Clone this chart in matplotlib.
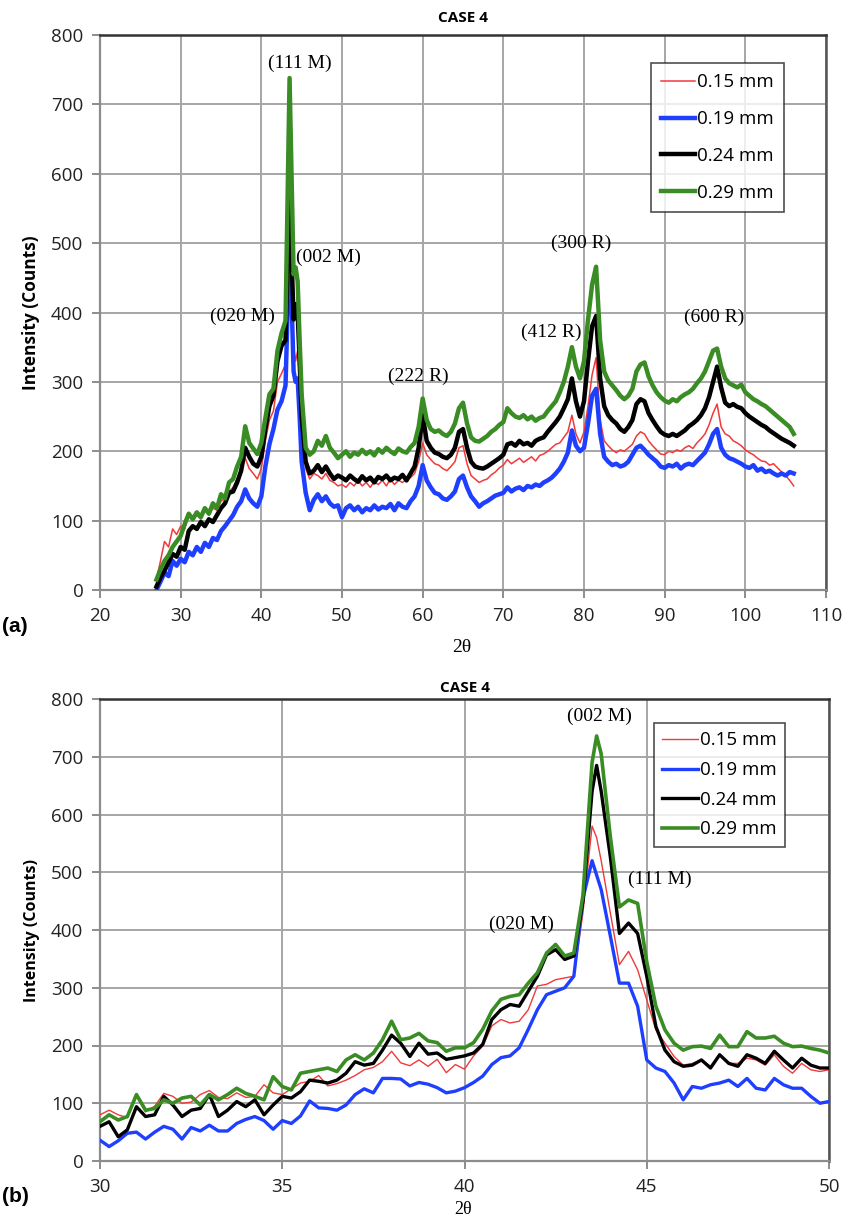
import matplotlib
matplotlib.use("Agg")
import matplotlib.pyplot as plt

# ---------------- data: panel (a) ----------------
top_x = [27.0, 27.5, 28.0, 28.5, 29.0, 29.5, 30.0, 30.5, 31.0, 31.5, 32.0, 32.5, 33.0, 33.5, 34.0, 34.5,
         35.0, 35.5, 36.0, 36.5, 37.0, 37.5, 38.0, 38.5, 39.0, 39.5, 40.0, 40.5, 41.0, 41.5, 42.0, 42.5, 43.0,
         43.25, 43.5, 43.75, 44.0, 44.25, 44.5, 44.75, 45.0,
         45.5, 46.0, 46.5, 47.0, 47.5, 48.0, 48.5, 49.0, 49.5, 50.0,
         50.5, 51.0, 51.5, 52.0, 52.5, 53.0, 53.5, 54.0, 54.5, 55.0,
         55.5, 56.0, 56.5, 57.0, 57.5, 58.0, 58.5, 59.0, 59.5, 60.0,
         60.5, 61.0, 61.5, 62.0, 62.5, 63.0, 63.5, 64.0, 64.5, 65.0,
         65.5, 66.0, 66.5, 67.0, 67.5, 68.0, 68.5, 69.0, 69.5, 70.0,
         70.5, 71.0, 71.5, 72.0, 72.5, 73.0, 73.5, 74.0, 74.5, 75.0,
         75.5, 76.0, 76.5, 77.0, 77.5, 78.0, 78.5, 79.0, 79.5, 80.0,
         80.5, 81.0, 81.5, 82.0, 82.5, 83.0, 83.5, 84.0, 84.5, 85.0,
         85.5, 86.0, 86.5, 87.0, 87.5, 88.0, 88.5, 89.0, 89.5, 90.0,
         90.5, 91.0, 91.5, 92.0, 92.5, 93.0, 93.5, 94.0, 94.5, 95.0,
         95.5, 96.0, 96.5, 97.0, 97.5, 98.0, 98.5, 99.0, 99.5, 100.0,
         100.5, 101.0, 101.5, 102.0, 102.5, 103.0, 103.5, 104.0, 104.5, 105.0,
         105.5, 106.0]

top_015 = [15, 42, 70, 62, 88, 80, 92, 88, 110, 100, 108, 102, 115, 108, 118, 115,
           128, 132, 142, 148, 160, 172, 190, 175, 168, 160, 175, 215, 245, 258, 300, 312, 325,
           440, 575, 450, 350, 330, 345, 300, 230,
           175, 160, 168, 165, 160, 168, 158, 155, 150, 152,
           148, 155, 150, 158, 150, 155, 148, 156, 152, 158,
           150, 160, 152, 158, 155, 160, 162, 168, 185, 212,
           195, 188, 182, 180, 175, 172, 178, 185, 205, 208,
           182, 165, 160, 155, 158, 160, 166, 170, 176, 180,
           188, 182, 186, 190, 184, 188, 192, 186, 194, 196,
           200, 205, 210, 212, 220, 228, 252, 225, 212, 228,
           265, 310, 335, 245, 215, 208, 202, 198, 202, 200,
           205, 210, 222, 228, 225, 215, 208, 202, 196, 195,
           200, 198, 202, 200, 205, 208, 204, 212, 218, 225,
           238, 255, 268, 235, 225, 222, 215, 212, 208, 202,
           198, 195, 190, 186, 185, 180, 182, 176, 170, 165,
           158, 150]

top_019 = [0, 12, 25, 20, 42, 35, 45, 40, 55, 50, 62, 55, 68, 62, 75, 72,
           85, 92, 100, 108, 120, 128, 145, 132, 125, 120, 135, 178, 210, 232, 260, 272, 295,
           400, 520, 420, 315, 300, 305, 250, 185,
           140, 115, 130, 138, 128, 135, 125, 120, 122, 105,
           118, 122, 115, 120, 112, 118, 115, 122, 116, 120,
           118, 124, 115, 125, 120, 118, 128, 135, 150, 180,
           158, 148, 140, 138, 132, 130, 135, 142, 160, 165,
           148, 135, 128, 120, 125, 128, 132, 136, 138, 140,
           148, 142, 146, 148, 144, 150, 148, 152, 150, 155,
           158, 162, 168, 175, 185, 198, 230, 208, 200, 205,
           240, 280, 290, 225, 192, 185, 180, 182, 178, 180,
           185, 195, 205, 208, 202, 195, 190, 185, 178, 176,
           180, 178, 182, 175, 180, 182, 180, 186, 192, 198,
           210, 225, 232, 205, 195, 190, 188, 185, 182, 178,
           176, 180, 172, 175, 170, 172, 168, 165, 168, 165,
           170, 168]

top_024 = [5, 18, 28, 40, 52, 48, 62, 58, 85, 92, 88, 98, 92, 102, 98, 108,
           118, 125, 140, 142, 155, 172, 205, 192, 182, 178, 192, 232, 265, 280, 330, 352, 360,
           470, 590, 480, 390, 412, 400, 330, 250,
           185, 168, 172, 180, 170, 178, 168, 160, 165, 162,
           158, 165, 160, 156, 164, 158, 162, 155, 163, 160,
           165, 158, 162, 160, 166, 158, 168, 178, 205, 252,
           215, 205, 198, 196, 192, 190, 195, 205, 228, 232,
           205, 185, 178, 176, 175, 178, 182, 186, 190, 195,
           210, 212, 208, 215, 210, 212, 208, 215, 218, 220,
           228, 235, 242, 250, 262, 275, 305, 272, 250, 272,
           330, 380, 395, 305, 265, 252, 245, 240, 232, 228,
           235, 245, 268, 275, 272, 255, 245, 236, 228, 224,
           222, 225, 222, 226, 230, 236, 240, 245, 252, 262,
           278, 300, 322, 292, 270, 265, 268, 264, 262, 255,
           250, 246, 242, 238, 235, 230, 226, 222, 218, 215,
           212, 208]

top_029 = [15, 30, 42, 50, 62, 70, 78, 95, 110, 102, 112, 105, 118, 110, 125, 118,
           138, 132, 155, 160, 178, 192, 236, 212, 204, 196, 212, 248, 282, 290, 345, 370, 388,
           560, 738, 600, 455, 465, 445, 360, 282,
           205, 195, 200, 215, 208, 222, 205, 198, 190, 195,
           200, 192, 198, 195, 202, 196, 200, 194, 203, 198,
           205, 200, 196, 204, 200, 198, 206, 212, 235, 276,
           245, 232, 228, 230, 225, 222, 228, 240, 262, 270,
           240, 220, 215, 214, 218, 222, 228, 232, 238, 242,
           262, 255, 250, 248, 252, 246, 250, 244, 248, 250,
           258, 265, 272, 285, 300, 322, 350, 322, 305, 330,
           390, 440, 466, 360, 315, 302, 295, 288, 280, 275,
           280, 290, 315, 325, 328, 308, 295, 285, 278, 273,
           270, 275, 272, 278, 282, 285, 290, 298, 305, 315,
           330, 345, 348, 322, 305, 298, 295, 292, 296, 285,
           280, 275, 272, 268, 265, 260, 255, 250, 245, 240,
           235, 225]

# ---------------- data: panel (b) ----------------
bot_x = [30.0, 30.25, 30.5, 30.75, 31.0, 31.25, 31.5, 31.75, 32.0, 32.25, 32.5, 32.75,
         33.0, 33.25, 33.5, 33.75, 34.0, 34.25, 34.5, 34.75, 35.0, 35.25, 35.5, 35.75,
         36.0, 36.25, 36.5, 36.75, 37.0, 37.25, 37.5, 37.75, 38.0, 38.25, 38.5, 38.75,
         39.0, 39.25, 39.5, 39.75, 40.0, 40.25, 40.5, 40.75, 41.0, 41.25, 41.5, 41.75,
         42.0, 42.25, 42.5, 42.75, 43.0, 43.25, 43.5, 43.625, 43.75, 44.0, 44.25, 44.5,
         44.75, 45.0, 45.25, 45.5, 45.75, 46.0, 46.25, 46.5, 46.75, 47.0, 47.25, 47.5,
         47.75, 48.0, 48.25, 48.5, 48.75, 49.0, 49.25, 49.5, 49.75, 50.0]

bot_015 = [80, 88, 80, 75, 112, 85, 95, 117, 112, 100, 102, 115,
           122, 110, 108, 118, 110, 112, 132, 118, 115, 125, 135, 138,
           148, 130, 134, 140, 148, 158, 162, 172, 190, 170, 165, 175,
           164, 176, 153, 167, 159, 182, 199, 234, 245, 239, 242, 262,
           303, 306, 314, 317, 320, 430, 580, 560, 520, 430, 340, 363,
           331, 279, 227, 204, 181, 166, 169, 175, 164, 184, 169, 169,
           178, 175, 166, 184, 164, 152, 169, 158, 155, 158]

bot_019 = [36, 25, 35, 48, 50, 38, 50, 60, 55, 38, 58, 52,
           62, 52, 52, 65, 72, 77, 70, 55, 70, 65, 78, 104,
           92, 91, 88, 97, 115, 125, 118, 143, 143, 142, 130, 136,
           133, 127, 118, 121, 127, 136, 147, 167, 179, 182, 196, 228,
           262, 288, 294, 300, 320, 455, 520, 495, 470, 390, 308, 308,
           268, 175, 161, 155, 135, 106, 129, 126, 132, 135, 140, 129,
           143, 126, 123, 143, 132, 126, 126, 112, 100, 103]

bot_024 = [60, 68, 42, 54, 94, 77, 80, 112, 97, 77, 88, 91,
           115, 77, 88, 103, 94, 106, 80, 97, 112, 109, 120, 140,
           138, 135, 140, 152, 172, 166, 169, 192, 218, 204, 181, 204,
           185, 187, 176, 179, 182, 187, 202, 245, 262, 271, 268, 294,
           320, 357, 366, 349, 355, 450, 640, 685, 640, 527, 394, 412,
           394, 320, 233, 192, 172, 164, 166, 175, 161, 184, 169, 164,
           184, 178, 169, 190, 175, 161, 178, 166, 161, 161]

bot_029 = [68, 80, 71, 77, 115, 88, 91, 106, 100, 109, 112, 97,
           115, 106, 115, 126, 117, 112, 106, 146, 129, 123, 152, 155,
           158, 161, 155, 175, 184, 175, 187, 210, 242, 210, 213, 221,
           208, 205, 190, 196, 196, 205, 228, 260, 280, 285, 288, 308,
           326, 360, 375, 355, 360, 460, 690, 736, 705, 562, 440, 452,
           446, 345, 268, 227, 204, 192, 198, 199, 195, 218, 198, 198,
           224, 213, 213, 216, 204, 198, 199, 195, 192, 187]

labels = ["0.15 mm", "0.19 mm", "0.24 mm", "0.29 mm"]
colors = ["#f03a3a", "#1f3fff", "#000000", "#3a8c24"]

top_ann_text = ["(111 M)", "(002 M)", "(020 M)", "(222 R)", "(412 R)", "(300 R)", "(600 R)"]
top_ann_x = [44.8, 48.3, 37.7, 59.4, 75.9, 79.6, 96.1]
top_ann_y = [759, 480, 394, 308, 372, 500, 393]

bot_ann_text = ["(002 M)", "(111 M)", "(020 M)"]
bot_ann_x = [43.69, 45.35, 41.55]
bot_ann_y = [770, 487, 409]

# ---------------- figure ----------------
W, H = 843, 1218
fig = plt.figure(figsize=(W / 100, H / 100), dpi=100)

tick_font = "Open Sans"
serif = ["Liberation Serif", "DejaVu Serif"]


def style_axes(ax, xmin, xmax, xstep, ymin, ymax):
    ax.set_xlim(xmin, xmax)
    ax.set_ylim(ymin, ymax)
    ax.set_xticks(list(range(xmin, xmax + 1, xstep)))
    ax.set_yticks(list(range(ymin, ymax + 1, 100)))
    ax.grid(True, color="#a6a6a6", linewidth=1.4, zorder=0)
    ax.set_axisbelow(True)
    for side in ["left", "bottom"]:
        ax.spines[side].set_color("#8c8c8c")
        ax.spines[side].set_linewidth(1.6)
    ax.spines["top"].set_color("#333333")
    ax.spines["top"].set_linewidth(1.8)
    ax.spines["right"].set_color("#555555")
    ax.spines["right"].set_linewidth(1.8)
    ax.tick_params(axis="both", direction="out", length=6, width=1.4, color="#8c8c8c",
                   labelsize=13.5, pad=6)
    for lab in ax.get_xticklabels() + ax.get_yticklabels():
        lab.set_fontfamily(tick_font)
        lab.set_color("#222222")


# ---- panel (a)
ax1 = fig.add_axes([100 / W, 1 - 590 / H, 726 / W, 555 / H])
style_axes(ax1, 20, 110, 10, 0, 800)
series_top = [top_015, top_019, top_024, top_029]
lw_top = [1.1, 3.2, 3.2, 3.2]
for ys, c, lab, lw in zip(series_top, colors, labels, lw_top):
    ax1.plot(top_x, ys, color=c, lw=lw, label=lab, zorder=3)
for t, xx, yy in zip(top_ann_text, top_ann_x, top_ann_y):
    ax1.text(xx, yy, t, ha="center", va="center", fontsize=14, family=serif, zorder=5)
leg1 = ax1.legend(loc="upper left", bbox_to_anchor=(651 / W, 1 - 63 / H),
                  bbox_transform=fig.transFigure, frameon=True, fancybox=False,
                  edgecolor="#222222", fontsize=13.5, handlelength=1.8, handletextpad=0.1,
                  labelspacing=1.0, borderpad=0.55, borderaxespad=0)
leg1.get_frame().set_linewidth(1.2)
for txt in leg1.get_texts():
    txt.set_fontfamily(tick_font)
ax1.set_title("CASE 4", fontsize=11, fontweight="bold", family=tick_font, pad=9)
ax1.set_ylabel("Intensity (Counts)", fontsize=12.5, fontweight="bold", family=tick_font, labelpad=8)

# ---- panel (b)
ax2 = fig.add_axes([100 / W, 1 - 1161 / H, 729 / W, 462 / H])
style_axes(ax2, 30, 50, 5, 0, 800)
series_bot = [bot_015, bot_019, bot_024, bot_029]
lw_bot = [1.0, 2.4, 2.4, 2.6]
for ys, c, lab, lw in zip(series_bot, colors, labels, lw_bot):
    ax2.plot(bot_x, ys, color=c, lw=lw, label=lab, zorder=3)
for t, xx, yy in zip(bot_ann_text, bot_ann_x, bot_ann_y):
    ax2.text(xx, yy, t, ha="center", va="center", fontsize=14, family=serif, zorder=5)
leg2 = ax2.legend(loc="upper left", bbox_to_anchor=(654 / W, 1 - 723 / H),
                  bbox_transform=fig.transFigure, frameon=True, fancybox=False,
                  edgecolor="#222222", fontsize=13.5, handlelength=1.9, handletextpad=0.1,
                  labelspacing=0.62, borderpad=0.45, borderaxespad=0)
leg2.get_frame().set_linewidth(1.2)
for txt in leg2.get_texts():
    txt.set_fontfamily(tick_font)
ax2.set_title("CASE 4", fontsize=11, fontweight="bold", family=tick_font, pad=5)
ax2.set_ylabel("Intensity (Counts)", fontsize=11.5, fontweight="bold", family=tick_font, labelpad=8)

# ---- panel letters and x labels
fig.text(2 / W, 1 - 627 / H, "(a)", fontsize=15, fontweight="bold", family="Liberation Sans",
         ha="left", va="center")
fig.text(2 / W, 1 - 1196 / H, "(b)", fontsize=15, fontweight="bold", family="Liberation Sans",
         ha="left", va="center")
fig.text(462 / W, 1 - 648 / H, "2θ", fontsize=14, family=serif, ha="center", va="center")
fig.text(463 / W, 1 - 1209 / H, "2θ", fontsize=13, family=serif, ha="center", va="center")

fig.savefig("out.png", dpi=100, facecolor="white")
